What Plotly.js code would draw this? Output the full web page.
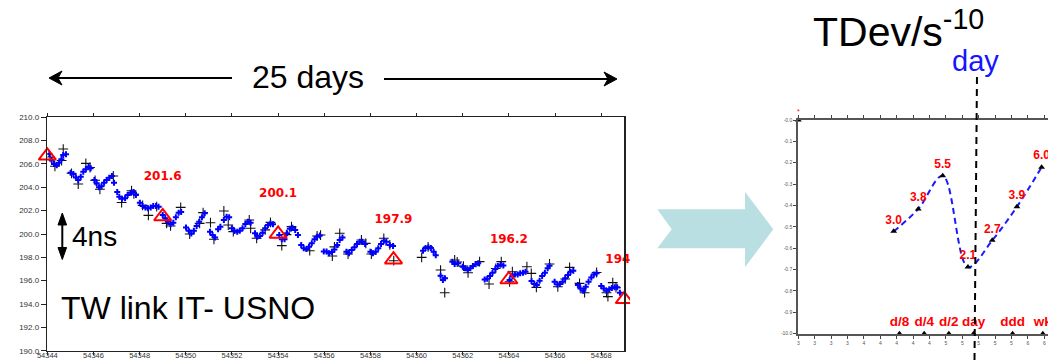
<!DOCTYPE html>
<html>
<head>
<meta charset="utf-8">
<script src="https://cdn.plot.ly/plotly-3.0.1.min.js"></script>
<style>html,body{margin:0;padding:0;background:#fff;}#chart{width:1048px;height:360px;}</style>
</head>
<body>
<div id="chart"></div>
<script>
// ---------- Left chart: TW link IT - USNO (MJD vs ns) ----------
const blueMJD = [
54344.09,54344.19,54344.29,54344.41,54344.51,54344.61,54344.69,54344.81,
54345.01,54345.13,54345.24,54345.34,54345.45,54345.56,54345.67,54345.79,54345.88,
54346.04,54346.14,54346.24,54346.35,54346.46,54346.57,54346.69,54346.80,54346.89,
54347.03,54347.12,54347.24,54347.37,54347.48,54347.61,54347.73,54347.84,
54348.01,54348.13,54348.25,54348.36,54348.48,54348.59,54348.71,54348.82,
54349.00,54349.11,54349.23,54349.34,54349.46,54349.57,54349.69,54349.80,
54350.01,54350.13,54350.24,54350.35,54350.47,54350.58,54350.70,54350.82,
54351.05,54351.16,54351.27,54351.40,54351.50,54351.65,54351.77,54351.88,
54352.00,54352.11,54352.23,54352.34,54352.46,54352.58,54352.69,54352.81,
54353.00,54353.10,54353.21,54353.33,54353.44,54353.56,54353.67,54353.78,
54354.05,54354.16,54354.28,54354.39,54354.51,54354.62,54354.74,54354.86,
54355.00,54355.11,54355.23,54355.34,54355.46,54355.58,54355.69,54355.81,
54355.98,54356.10,54356.21,54356.33,54356.44,54356.56,54356.67,54356.79,
54356.96,54357.07,54357.19,54357.31,54357.42,54357.54,54357.65,54357.77,
54358.00,54358.11,54358.23,54358.34,54358.46,54358.58,54358.69,54358.84,54358.98,
54360.28,54360.39,54360.51,54360.62,54360.74,54360.83,
54361.04,54361.14,54361.23,54361.55,54361.65,54361.80,
54362.00,54362.10,54362.21,54362.33,54362.44,54362.56,54362.67,
54362.95,54363.06,54363.18,54363.29,54363.41,54363.52,54363.64,54363.76,
54364.03,54364.15,54364.26,54364.38,54364.49,54364.61,54364.72,
54364.98,54365.10,54365.21,54365.33,54365.44,54365.56,54365.68,54365.76,
54365.98,54366.10,54366.21,54366.33,54366.44,54366.56,54366.67,54366.79,
54366.99,54367.10,54367.22,54367.33,54367.45,54367.57,54367.68,54367.80,
54368.00,54368.11,54368.23,54368.35,54368.46,54368.58,54368.69,54368.81
];
const blueNs = [
206.85,206.34,206.00,205.90,206.11,206.40,206.77,206.83,
205.25,205.14,204.85,204.62,204.91,205.34,205.54,205.77,205.63,
204.63,204.34,204.00,204.10,204.40,204.63,204.83,204.97,204.40,
203.60,203.20,203.03,203.06,203.34,203.54,203.60,203.34,
202.67,202.40,202.28,202.20,202.28,202.40,202.40,202.34,
201.63,201.34,201.05,200.83,200.97,201.43,201.83,201.88,
200.56,200.28,200.05,200.28,200.68,201.05,201.43,201.77,
200.20,199.91,199.70,200.40,200.63,201.20,201.48,201.43,
200.49,200.26,200.20,200.28,200.49,200.86,201.06,200.97,
200.06,199.77,199.83,200.11,200.49,200.77,200.91,200.83,
199.91,199.54,199.54,200.06,200.46,200.54,200.34,199.91,
199.06,198.77,198.71,198.91,199.20,199.54,199.77,199.88,
198.49,198.49,198.34,198.46,198.68,199.06,199.49,199.71,
198.48,198.34,198.63,198.86,199.14,199.34,199.34,199.14,
198.48,198.34,198.48,198.77,199.14,199.43,199.34,199.06,198.97,
198.57,198.80,198.86,198.80,198.48,198.17,
196.43,196.05,196.20,197.63,197.43,197.49,
197.20,197.06,196.91,197.06,197.26,197.40,197.49,
196.11,196.17,196.40,196.68,197.00,197.26,197.37,197.31,
196.06,196.40,196.54,196.54,196.63,196.68,196.77,
195.97,195.71,195.63,196.00,196.40,196.68,197.06,197.28,
195.91,195.68,195.71,195.91,196.20,196.48,196.77,196.86,
195.63,195.34,195.14,195.48,195.91,196.28,196.54,196.63,
195.54,195.34,195.14,195.26,195.37,195.43,195.43,194.97
];
const blackMJD = [
54344.12,54344.33,54344.62,54344.69,
54345.05,54345.34,54345.67,54345.85,
54346.07,54346.28,54346.86,
54347.22,54347.65,54347.75,
54348.13,54348.38,54348.74,
54349.17,54349.34,54349.78,
54350.17,54350.60,54350.75,
54351.07,54351.22,54351.65,54351.84,
54352.06,54352.75,54352.81,
54353.07,54353.44,54353.67,
54354.16,54354.58,54354.36,
54355.37,54355.69,54355.84,
54356.35,54356.67,54356.44,
54357.03,54357.61,54357.80,
54358.04,54358.58,54358.84,
54359.01,
54360.22,54360.50,
54361.04,54361.22,54361.65,54361.76,
54362.03,54362.23,54362.73,
54363.14,54363.67,54363.43,
54364.03,54364.15,54364.78,
54364.97,54365.19,54365.76,
54366.12,54366.63,54366.44,
54367.06,54367.28,54367.80,
54368.29,54368.50,54368.64,54368.23
];
const blackNs = [
206.60,205.80,206.30,207.28,
205.20,204.28,206.05,205.70,
204.60,203.83,204.97,
202.70,203.71,203.43,
202.45,201.60,202.34,
200.91,200.69,202.28,
200.00,200.91,201.83,
200.97,199.55,201.97,200.77,
200.20,201.20,200.49,
199.63,200.35,201.00,
199.00,200.63,199.95,
198.57,199.83,199.91,
198.11,200.06,198.90,
198.28,199.49,199.20,
198.28,199.63,199.06,
197.71,
198.00,198.90,
196.91,194.97,197.77,197.60,
197.25,196.68,197.63,
195.71,197.63,197.05,
195.91,196.77,197.20,
196.63,195.43,197.43,
195.48,197.14,196.15,
195.77,194.97,196.70,
194.63,195.83,195.40,194.97
];
// red triangles (5-day means); the first one carries no printed value
const triMJD = [54344, 54349, 54354, 54359, 54364, 54369];
const triNs = [206.7, 201.5, 200.0, 197.8, 196.1, 194.4];
const labelMJD = [54349, 54354, 54359, 54364, 54369];
const labelNs = [201.5, 200.0, 197.8, 196.1, 194.4];
const labelText = ['201.6', '200.1', '197.9', '196.2', '194.4'];

// ---------- Right chart: TDev ----------
const tauLog = [3.963, 4.263, 4.561, 4.869, 5.165, 5.466, 5.767];
const tdevPos = [-0.521, -0.416, -0.261, -0.688, -0.563, -0.406, -0.221];
const tdevLabels = ['3.0', '3.8', '5.5', '2.1', '2.7', '3.9', '6.0'];
const markTau = [4.034, 4.335, 4.636, 4.937, 5.413, 5.782];
const markLabels = ['d/8', 'd/4', 'd/2', 'day', 'ddd', 'wk'];
const yTickVals = [0, -0.1, -0.2, -0.3, -0.4, -0.5, -0.6, -0.7, -0.8, -0.9, -1.0];
const yTickText = ['-0.0', '-0.1', '-0.2', '-0.3', '-0.4', '-0.5', '-0.6', '-0.7', '-0.8', '-0.9', '-10.0'];

const SANS = 'Liberation Sans, Arial, sans-serif';
const R2 = [2.8, 5.845];
const Y2 = [-1, 0];

const traces = [
  {x: blackMJD, y: blackNs, xaxis: 'x', yaxis: 'y', mode: 'markers', hoverinfo: 'skip',
   marker: {symbol: 'cross-thin-open', size: 7, color: '#111', line: {width: 1.1, color: '#111'}}},
  {x: blueMJD, y: blueNs, xaxis: 'x', yaxis: 'y', mode: 'markers', hoverinfo: 'skip',
   marker: {symbol: 'cross', size: 5, color: '#0000ff', line: {width: 0}}},
  {x: triMJD, y: triNs, xaxis: 'x', yaxis: 'y', mode: 'markers', cliponaxis: false,
   marker: {symbol: 'triangle-up-open', size: 15, color: '#ff0000', line: {width: 2, color: '#ff0000'}}},
  {x: labelMJD, y: labelNs.map(v => v + 3.4), xaxis: 'x', yaxis: 'y', mode: 'text', cliponaxis: false,
   text: labelText, textposition: 'middle center',
   textfont: {family: 'DejaVu Sans, sans-serif', size: 12, color: '#ff0000', weight: 'bold'}},
  // right chart
  {x: tauLog, y: tdevPos, xaxis: 'x2', yaxis: 'y2', mode: 'lines',
   line: {color: '#1a1aff', width: 2, dash: '6px,4px', shape: 'spline', smoothing: 1}},
  {x: tauLog, y: tdevPos, xaxis: 'x2', yaxis: 'y2', mode: 'markers+text', cliponaxis: false,
   text: tdevLabels, textposition: 'top center',
   marker: {symbol: 'triangle-up', size: 6, color: '#000'},
   textfont: {family: SANS, size: 12, color: '#ff0000', weight: 'bold'}},
  {x: markTau, y: markTau.map(() => Y2[0]), xaxis: 'x2', yaxis: 'y2', mode: 'markers+text', cliponaxis: false,
   text: markLabels, textposition: 'top center',
   marker: {symbol: 'triangle-up', size: 6, color: '#000'},
   textfont: {family: SANS, size: 13.5, color: '#ff0000', weight: 'bold'}},
  {x: [R2[0]], y: [Y2[1]], xaxis: 'x2', yaxis: 'y2', mode: 'markers+text', cliponaxis: false,
   text: ['*'], textposition: 'top center',
   marker: {symbol: 'triangle-up', size: 6, color: '#000'},
   textfont: {family: SANS, size: 7, color: '#ff0000'}}
];

const px = v => v / 1048;
const py = v => 1 - v / 360;
const P = (x, y) => `${px(x)},${py(y)}`;

const layout = {
  width: 1048, height: 360,
  margin: {l: 0, r: 0, t: 0, b: 0},
  paper_bgcolor: '#fff', plot_bgcolor: '#fff',
  showlegend: false,
  xaxis: {domain: [px(47.3), px(624.3)], anchor: 'y', range: [54344, 54369],
    tick0: 54344, dtick: 2, tickformat: 'd', ticks: 'outside', ticklen: 3, tickwidth: 1, tickcolor: '#222',
    ticklabelstandoff: -6,
    showline: true, linecolor: '#222', linewidth: 1.5, mirror: 'ticks', showgrid: false, zeroline: false,
    tickfont: {family: SANS, size: 7.5, color: '#333'}},
  yaxis: {domain: [py(350.7), py(117.3)], anchor: 'x', range: [190, 210],
    tick0: 190, dtick: 2, tickformat: '.1f', ticks: 'outside', ticklen: 5, tickwidth: 1, tickcolor: '#222',
    showline: true, linecolor: '#222', linewidth: 1.5, mirror: true, showgrid: false, zeroline: false,
    tickfont: {family: SANS, size: 8, color: '#333'}},
  yaxis3: {overlaying: 'y', anchor: 'x', side: 'right', range: [190, 210], tick0: 190, dtick: 2,
    ticks: 'inside', ticklen: 5, tickcolor: '#222', showticklabels: false, showline: false, showgrid: false, zeroline: false},
  xaxis2: {domain: [px(798.3), 1], anchor: 'y2', range: R2, tick0: 2.8, dtick: 0.2, tickformat: '.0f',
    ticks: 'outside', ticklen: 3, tickcolor: '#444', showline: true, linecolor: '#555', linewidth: 2,
    mirror: 'ticks', showgrid: false, zeroline: false,
    tickfont: {family: SANS, size: 5, color: '#555'}},
  yaxis2: {domain: [py(333.7), py(120)], anchor: 'x2', range: Y2, tickvals: yTickVals, ticktext: yTickText,
    ticks: 'outside', ticklen: 3, tickcolor: '#444', showline: true, linecolor: '#555', linewidth: 2,
    showgrid: false, zeroline: false,
    tickfont: {family: SANS, size: 5, color: '#555'}},
  shapes: [
    // light-blue block arrow between the two panels
    {type: 'path', xref: 'paper', yref: 'paper', layer: 'below',
     path: `M${P(657.3,209.3)} L${P(745,209.3)} L${P(745,191.7)} L${P(773.3,229.3)} L${P(745,267.3)} L${P(745,248.3)} L${P(657.3,248.3)} L${P(671.7,229.3)} Z`,
     fillcolor: '#b9dfe3', line: {width: 0}},
    // vertical dashed "day" marker
    {type: 'line', xref: 'paper', yref: 'paper', x0: px(974.5), y0: 0, x1: px(977), y1: py(73),
     line: {color: '#000', width: 2, dash: '7px,5px'}},
    // mask clipping the last label at the panel edge
    {type: 'rect', xref: 'paper', yref: 'paper', layer: 'above',
     x0: px(630), x1: px(652), y0: py(320), y1: py(230), fillcolor: '#fff', line: {width: 0}},
    // "25 days" arrows
    {type: 'line', xref: 'paper', yref: 'paper', x0: px(54), y0: py(78), x1: px(232), y1: py(78),
     line: {color: '#000', width: 2}},
    {type: 'path', xref: 'paper', yref: 'paper',
     path: `M${P(49,78)} L${P(62,71)} L${P(58,78)} L${P(62,85)} Z`, fillcolor: '#000', line: {color: '#000', width: 1}},
    {type: 'line', xref: 'paper', yref: 'paper', x0: px(384), y0: py(79), x1: px(612), y1: py(79),
     line: {color: '#000', width: 2}},
    {type: 'path', xref: 'paper', yref: 'paper',
     path: `M${P(617,79)} L${P(604,72)} L${P(608,79)} L${P(604,86)} Z`, fillcolor: '#000', line: {color: '#000', width: 1}},
    // "4ns" double arrow
    {type: 'line', xref: 'paper', yref: 'paper', x0: px(62.3), y0: py(222), x1: px(62.3), y1: py(250),
     line: {color: '#000', width: 2}},
    {type: 'path', xref: 'paper', yref: 'paper',
     path: `M${P(62.3,213)} L${P(58,225)} L${P(66.6,225)} Z`, fillcolor: '#000', line: {color: '#000', width: 1}},
    {type: 'path', xref: 'paper', yref: 'paper',
     path: `M${P(62.3,259.5)} L${P(58,247.5)} L${P(66.6,247.5)} Z`, fillcolor: '#000', line: {color: '#000', width: 1}}
  ],
  annotations: [
    {xref: 'paper', yref: 'paper', x: px(308), y: py(77), xanchor: 'center', yanchor: 'middle',
     text: '25 days', showarrow: false, font: {family: SANS, size: 32, color: '#000'}},
    {xref: 'paper', yref: 'paper', x: px(94), y: py(236), xanchor: 'center', yanchor: 'middle',
     text: '4ns', showarrow: false, font: {family: SANS, size: 28, color: '#000'}},
    {xref: 'paper', yref: 'paper', x: px(187.5), y: py(308), xanchor: 'center', yanchor: 'middle',
     text: 'TW link IT- USNO', showarrow: false, font: {family: SANS, size: 32, color: '#000'}},
    {xref: 'paper', yref: 'paper', x: px(898), y: py(29), xanchor: 'center', yanchor: 'middle',
     text: 'TDev/s<sup>-10</sup>', showarrow: false, font: {family: SANS, size: 41, color: '#000'}},
    {xref: 'paper', yref: 'paper', x: px(975), y: py(61), xanchor: 'center', yanchor: 'middle',
     text: 'day', showarrow: false, font: {family: SANS, size: 29, color: '#1515ff'}}
  ]
};

Plotly.newPlot('chart', traces, layout, {displayModeBar: false, staticPlot: true});
</script>
</body>
</html>
